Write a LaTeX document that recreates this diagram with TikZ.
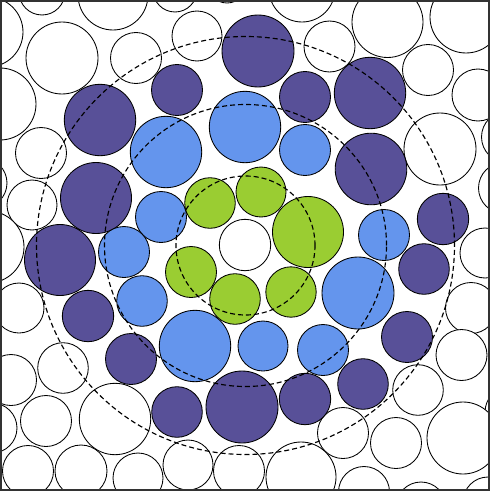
\documentclass[tikz,border=0pt]{standalone}
\definecolor{cpurple}{RGB}{88,80,152}
\definecolor{cblue}{RGB}{100,149,237}
\definecolor{cgreen}{RGB}{154,205,50}
\begin{document}
\begin{tikzpicture}[x=1pt,y=-1pt,
  disc/.style={draw=black,line width=0.85pt},
  wdisc/.style={disc,fill=white},
  pdisc/.style={disc,fill=cpurple},
  bdisc/.style={disc,fill=cblue},
  gdisc/.style={disc,fill=cgreen},
  ring/.style={draw=black,line width=1.15pt,dash pattern=on 5pt off 3pt},
  frame/.style={draw=black!80,line width=1.4pt}]
\useasboundingbox (0,0) rectangle (490,495);
\begin{scope}
\clip (1,1) rectangle (489,490);
% white outer discs
\foreach \x/\y/\r in {
  -12/32/35, 42/-8/23, 113/-5/35, 175/-10/22, 227/-17/20, 302/-11/33,
  329.5/46.5/25.5, 387.5/22/35.5, 466/17/36, 62/58/36, 136/58/25.5,
  197/36/25, 428/70/25.5, 478/95/26, 0/104/36, 41/153/25.5, 440/149/36,
  507/137/25.5, -18/183/25, 32/205/25, 504/188/25.5, -12/247/36,
  485/253/25, 19/308/25, 471/308/25.5, 11/380/25.5, 63/368/25.3,
  461.5/355/25.5, 418/390/25.3, 510/412/25, -8/428/25, 46/421/25.5,
  115/419/35.7, 463/438/36, 396/443/25.5, 343/433/25.5, 28/471/25.5,
  81/471/26, 138/478/25, 188/465/25, 239/471/25.5, 301/477/35,
  364/492/25.5, 421/507/25, 488/502/25}
  \draw[wdisc] (\x,\y) circle[radius=\r pt];
% purple discs
\foreach \x/\y/\r in {
  258/51/36, 177/90/25.5, 305/97/25.5, 370/93/35.7, 100/120/35.7,
  371/169/35.8, 96/198/35.5, 443/219/25.7, 60/260/35.5, 424/269/25.3,
  88/316/25.7, 407/337/25.5, 131/359/25.5, 363/384/25.3, 177/412/25.3,
  242/407/36, 305/399/25.7}
  \draw[pdisc] (\x,\y) circle[radius=\r pt];
% blue discs
\foreach \x/\y/\r in {
  245/127/35.7, 166/152/35.7, 305/150/25.5, 161/217/25.5, 384/235/25.5,
  124/252/25.5, 142/301/25.3, 358/293/36, 195/346/35.7, 263/346/25,
  323/350/25.5}
  \draw[bdisc] (\x,\y) circle[radius=\r pt];
% green discs
\foreach \x/\y/\r in {
  210/203/25.3, 261/192/25, 308/232/35.5, 191/272/25.5, 235/299/25.3,
  291/292/25.2}
  \draw[gdisc] (\x,\y) circle[radius=\r pt];
% central white disc
\draw[wdisc] (245,245) circle[radius=25.7pt];
% dashed rings
\foreach \r in {69.5,141,209}
  \draw[ring] (245.5,245.5) circle[radius=\r pt];
\end{scope}
\draw[frame] (1,1) rectangle (489,490);
\end{tikzpicture}
\end{document}
